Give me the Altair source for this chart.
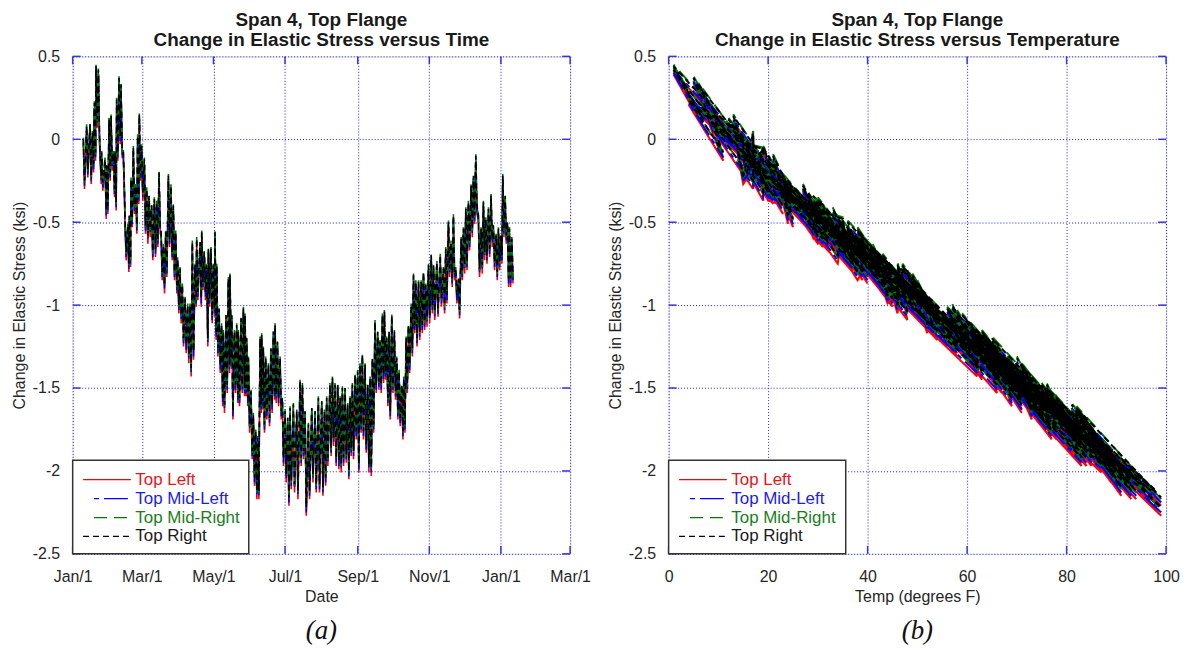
import altair as alt
import pandas as pd

FONT = "Liberation Sans"
SERIES = ["Top Left", "Top Mid-Left", "Top Mid-Right", "Top Right"]
LINE_COLORS = ["#ff0000", "#0000ff", "#007800", "#000000"]
TEXT_COLORS = ["#e8141c", "#1c1ce8", "#1a7f1a", "#1a1a1a"]
DASHES = [[1, 0], [5, 5, 24, 5], [13, 7], [6, 4]]

# day of year (from Jan 1) of each daily maximum (cold) and minimum (warm) reading
day_hi = [9.1, 11.9, 14.8, 16.8, 18.5, 19.9, 21.9, 23.3, 24.7, 27.6,
          29.0, 31.0, 32.7, 34.7, 36.1, 37.5, 39.5, 41.2, 43.2, 44.6,
          46.9, 48.3, 49.7, 51.7, 53.7, 55.4, 56.8, 58.8, 61.1, 63.1,
          65.1, 67.3, 69.6, 71.6, 73.6, 75.3, 77.3, 79.3, 81.6, 83.8,
          85.8, 87.8, 89.5, 91.5, 93.5, 95.8, 98.0, 100.0, 102.0, 104.3,
          105.7, 108.6, 110.0, 112.2, 114.2, 115.7, 117.9, 119.9, 121.3, 122.8,
          124.8, 126.9, 128.4, 130.7, 132.7, 134.1, 135.6, 137.8, 139.8, 141.2,
          143.5, 145.5, 146.9, 148.3, 149.8, 152.0, 154.0, 156.0, 157.7, 159.7,
          161.1, 162.5, 164.5, 166.8, 169.0, 171.1, 172.5, 174.5, 176.8, 178.7,
          181.0, 183.3, 185.3, 188.1, 191.0, 193.8, 195.8, 198.1, 200.9, 203.8,
          206.6, 209.4, 212.3, 214.6, 216.5, 219.3, 221.4, 223.6, 225.9, 227.9,
          229.9, 232.2, 234.4, 236.4, 238.4, 240.7, 242.9, 244.9, 246.9, 249.2,
          251.5, 253.5, 255.5, 257.7, 260.0, 262.0, 264.0, 265.7, 267.7, 269.7,
          272.0, 274.2, 276.2, 278.2, 280.5, 282.2, 284.2, 286.2, 288.5, 290.5,
          292.5, 294.8, 297.0, 299.0, 301.0, 303.3, 305.6, 307.6, 310.4, 313.3,
          316.0, 318.0, 320.3, 322.5, 324.5, 326.5, 328.8, 331.1, 333.1, 335.1,
          337.3, 339.6, 341.6, 343.6, 345.8, 348.1, 350.1, 352.1, 354.4, 356.6,
          358.6, 360.9, 362.9, 364.9, 366.6, 368.6, 370.6, 372.3, 374.3]
day_lo = [10.1, 12.9, 15.8, 17.8, 19.5, 20.9, 22.9, 24.3, 25.7, 28.6,
          30.0, 32.0, 33.7, 35.7, 37.1, 38.5, 40.5, 42.2, 44.2, 45.6,
          47.9, 49.3, 50.7, 52.7, 54.7, 56.4, 57.8, 59.8, 62.1, 64.1,
          66.1, 68.3, 70.6, 72.6, 74.6, 76.3, 78.3, 80.3, 82.6, 84.8,
          86.8, 88.8, 90.5, 92.5, 94.5, 96.8, 99.0, 101.0, 103.0, 105.3,
          106.7, 109.6, 111.0, 113.2, 115.2, 116.7, 118.9, 120.9, 122.3, 123.8,
          125.8, 127.9, 129.4, 131.7, 133.7, 135.1, 136.6, 138.8, 140.8, 142.2,
          144.5, 146.5, 147.9, 149.3, 150.8, 153.0, 155.0, 157.0, 158.7, 160.7,
          162.1, 163.5, 165.5, 167.8, 170.0, 172.1, 173.5, 175.5, 177.8, 179.7,
          182.0, 184.3, 186.3, 189.1, 192.0, 194.8, 196.8, 199.1, 201.9, 204.8,
          207.6, 210.4, 213.3, 215.6, 217.5, 220.3, 222.4, 224.6, 226.9, 228.9,
          230.9, 233.2, 235.4, 237.4, 239.4, 241.7, 243.9, 245.9, 247.9, 250.2,
          252.5, 254.5, 256.5, 258.7, 261.0, 263.0, 265.0, 266.7, 268.7, 270.7,
          273.0, 275.2, 277.2, 279.2, 281.5, 283.2, 285.2, 287.2, 289.5, 291.5,
          293.5, 295.8, 298.0, 300.0, 302.0, 304.3, 306.6, 308.6, 311.4, 314.3,
          317.0, 319.0, 321.3, 323.5, 325.5, 327.5, 329.8, 332.1, 334.1, 336.1,
          338.3, 340.6, 342.6, 344.6, 346.8, 349.1, 351.1, 353.1, 355.4, 357.6,
          359.6, 361.9, 363.9, 365.9, 367.6, 369.6, 371.6, 373.3, 375.3]

# air temperature (degrees F) at the cold and warm readings
temp_cold = [17, 9, 13, 17, 6, 1, 1, 19, 14, 20,
             18, 12, 13, 15, 16, 4, 5, 6, 15, 35,
             36, 28, 23, 19, 22, 14, 9, 19, 15, 27,
             26, 30, 30, 26, 21, 32, 41, 36, 20, 27,
             31, 33, 43, 47, 46, 52, 52, 57, 35, 46,
             36, 39, 38, 38, 44, 37, 41, 44, 34, 47,
             56, 55, 61, 59, 45, 46, 55, 63, 55, 63,
             56, 56, 59, 60, 66, 72, 82, 85, 84, 65,
             63, 61, 68, 71, 62, 60, 57, 65, 63, 78,
             79, 82, 82, 76, 79, 69, 75, 81, 81, 82,
             82, 73, 78, 82, 74, 73, 70, 76, 69, 78,
             73, 76, 81, 74, 73, 68, 72, 69, 64, 71,
             75, 68, 68, 60, 58, 62, 55, 58, 58, 62,
             55, 61, 70, 68, 73, 68, 64, 59, 51, 49,
             50, 44, 49, 48, 47, 44, 40, 46, 40, 43,
             43, 41, 36, 36, 31, 42, 49, 38, 33, 33,
             30, 21, 23, 21, 29, 35, 27, 35, 27, 29,
             33, 37, 38, 35, 22, 24, 35, 36, 35]
temp_hot = [17, 19, 15, 17, 17, 7, 11, 15, 21, 27,
            23, 21, 16, 20, 26, 11, 12, 16, 20, 36,
            37, 40, 25, 26, 33, 21, 18, 19, 32, 33,
            29, 39, 35, 32, 32, 38, 45, 43, 31, 36,
            39, 47, 46, 53, 60, 58, 62, 62, 63, 49,
            44, 51, 44, 45, 60, 45, 53, 53, 54, 60,
            62, 74, 71, 70, 67, 61, 76, 66, 73, 73,
            67, 73, 71, 71, 81, 82, 93, 98, 94, 74,
            71, 81, 73, 78, 77, 70, 72, 69, 78, 88,
            89, 99, 93, 93, 97, 84, 86, 99, 93, 92,
            92, 95, 91, 93, 90, 83, 82, 83, 90, 89,
            85, 89, 90, 84, 87, 77, 89, 82, 78, 84,
            87, 91, 76, 70, 71, 68, 66, 63, 74, 77,
            67, 74, 76, 76, 82, 76, 70, 67, 58, 54,
            56, 58, 52, 54, 56, 51, 49, 48, 52, 49,
            47, 50, 40, 42, 43, 44, 52, 45, 38, 39,
            32, 33, 24, 26, 43, 38, 36, 34, 37, 34,
            37, 44, 40, 37, 33, 30, 44, 47, 40]

# change in elastic stress (ksi), Top Right gauge
tr_hi = [0.00, 0.08, 0.09, 0.04, 0.22, 0.44, 0.42, -0.06, -0.08, -0.12,
         -0.16, 0.12, 0.14, -0.08, -0.08, 0.24, 0.37, 0.33, -0.08, -0.48,
         -0.52, -0.46, -0.24, -0.05, -0.28, 0.02, 0.15, -0.04, -0.12, -0.30,
         -0.34, -0.40, -0.36, -0.38, -0.20, -0.54, -0.64, -0.56, -0.22, -0.28,
         -0.40, -0.56, -0.72, -0.78, -0.88, -0.96, -1.00, -1.00, -0.62, -0.76,
         -0.60, -0.62, -0.56, -0.68, -0.76, -0.66, -0.66, -0.76, -0.56, -0.76,
         -1.02, -1.12, -1.16, -1.06, -0.84, -0.82, -1.06, -1.16, -1.12, -1.16,
         -1.08, -1.02, -1.06, -1.20, -1.32, -1.52, -1.66, -1.76, -1.80, -1.20,
         -1.18, -1.26, -1.32, -1.36, -1.26, -1.16, -1.12, -1.22, -1.32, -1.56,
         -1.64, -1.68, -1.62, -1.60, -1.64, -1.46, -1.48, -1.64, -1.72, -1.62,
         -1.64, -1.56, -1.58, -1.64, -1.56, -1.48, -1.44, -1.48, -1.48, -1.56,
         -1.50, -1.50, -1.60, -1.56, -1.48, -1.42, -1.40, -1.36, -1.30, -1.36,
         -1.48, -1.44, -1.32, -1.10, -1.16, -1.22, -1.06, -1.04, -1.20, -1.16,
         -1.06, -1.16, -1.32, -1.40, -1.48, -1.44, -1.20, -1.12, -1.00, -0.82,
         -0.86, -0.86, -0.86, -0.80, -0.88, -0.76, -0.70, -0.76, -0.74, -0.70,
         -0.78, -0.66, -0.50, -0.62, -0.46, -0.78, -0.84, -0.60, -0.54, -0.42,
         -0.38, -0.28, -0.22, -0.10, -0.46, -0.54, -0.38, -0.48, -0.42, -0.34,
         -0.52, -0.58, -0.54, -0.58, -0.22, -0.34, -0.50, -0.54, -0.60]
tr_lo = [-0.25, -0.18, -0.22, -0.15, -0.08, 0.12, 0.02, -0.22, -0.26, -0.43,
         -0.40, -0.20, -0.14, -0.30, -0.38, -0.08, 0.02, -0.06, -0.32, -0.68,
         -0.75, -0.72, -0.48, -0.40, -0.52, -0.34, -0.20, -0.32, -0.52, -0.58,
         -0.54, -0.68, -0.66, -0.60, -0.52, -0.80, -0.88, -0.78, -0.60, -0.68,
         -0.80, -0.88, -1.00, -1.06, -1.20, -1.24, -1.30, -1.38, -1.28, -0.96,
         -0.92, -0.96, -0.86, -0.92, -1.20, -0.96, -1.06, -1.02, -1.16, -1.26,
         -1.36, -1.56, -1.60, -1.48, -1.36, -1.32, -1.64, -1.48, -1.54, -1.56,
         -1.48, -1.50, -1.50, -1.56, -1.72, -1.88, -2.04, -2.12, -2.12, -1.60,
         -1.58, -1.72, -1.64, -1.68, -1.60, -1.52, -1.54, -1.56, -1.64, -1.92,
         -2.02, -2.16, -2.06, -2.08, -2.12, -1.92, -1.88, -2.22, -2.12, -2.02,
         -2.08, -2.08, -2.10, -2.04, -1.92, -1.86, -1.80, -1.92, -1.94, -1.96,
         -1.92, -1.90, -2.00, -1.86, -1.88, -1.76, -1.96, -1.72, -1.76, -1.84,
         -1.96, -1.98, -1.72, -1.48, -1.46, -1.48, -1.42, -1.40, -1.56, -1.64,
         -1.48, -1.52, -1.64, -1.68, -1.76, -1.72, -1.48, -1.36, -1.26, -1.12,
         -1.20, -1.16, -1.12, -1.10, -1.08, -1.06, -1.00, -1.04, -1.02, -0.96,
         -1.00, -0.94, -0.78, -0.84, -0.80, -0.94, -1.03, -0.80, -0.76, -0.74,
         -0.62, -0.54, -0.46, -0.40, -0.78, -0.76, -0.68, -0.70, -0.66, -0.60,
         -0.74, -0.80, -0.74, -0.70, -0.54, -0.58, -0.84, -0.84, -0.82]

# Top Mid-Right gauge
tmr_hi = [0.01, 0.09, 0.10, 0.05, 0.23, 0.45, 0.43, -0.05, -0.07, -0.11,
          -0.15, 0.13, 0.15, -0.07, -0.07, 0.25, 0.38, 0.34, -0.07, -0.47,
          -0.51, -0.45, -0.23, -0.04, -0.27, 0.03, 0.16, -0.03, -0.11, -0.29,
          -0.33, -0.39, -0.35, -0.37, -0.19, -0.53, -0.63, -0.55, -0.21, -0.27,
          -0.39, -0.55, -0.71, -0.77, -0.87, -0.95, -0.99, -0.99, -0.61, -0.75,
          -0.59, -0.61, -0.55, -0.67, -0.75, -0.65, -0.65, -0.75, -0.55, -0.75,
          -1.01, -1.11, -1.15, -1.05, -0.83, -0.81, -1.05, -1.15, -1.11, -1.15,
          -1.07, -1.01, -1.05, -1.19, -1.31, -1.51, -1.65, -1.75, -1.79, -1.19,
          -1.17, -1.25, -1.31, -1.35, -1.25, -1.15, -1.11, -1.21, -1.31, -1.55,
          -1.63, -1.67, -1.61, -1.59, -1.63, -1.45, -1.47, -1.63, -1.71, -1.61,
          -1.63, -1.55, -1.57, -1.63, -1.55, -1.47, -1.43, -1.47, -1.47, -1.55,
          -1.49, -1.49, -1.59, -1.55, -1.47, -1.41, -1.39, -1.35, -1.29, -1.35,
          -1.47, -1.43, -1.31, -1.09, -1.15, -1.21, -1.05, -1.03, -1.19, -1.15,
          -1.05, -1.15, -1.31, -1.39, -1.47, -1.43, -1.19, -1.11, -0.99, -0.81,
          -0.85, -0.85, -0.85, -0.79, -0.87, -0.75, -0.69, -0.75, -0.73, -0.69,
          -0.77, -0.65, -0.49, -0.61, -0.45, -0.77, -0.83, -0.59, -0.53, -0.41,
          -0.37, -0.27, -0.21, -0.09, -0.45, -0.53, -0.37, -0.47, -0.41, -0.33,
          -0.51, -0.57, -0.53, -0.57, -0.21, -0.33, -0.49, -0.53, -0.59]
tmr_lo = [-0.26, -0.19, -0.23, -0.16, -0.09, 0.11, 0.01, -0.23, -0.27, -0.44,
          -0.41, -0.21, -0.15, -0.31, -0.39, -0.09, 0.01, -0.07, -0.33, -0.69,
          -0.76, -0.73, -0.49, -0.41, -0.53, -0.35, -0.21, -0.33, -0.53, -0.59,
          -0.55, -0.69, -0.67, -0.61, -0.53, -0.81, -0.89, -0.79, -0.61, -0.69,
          -0.81, -0.89, -1.01, -1.07, -1.21, -1.25, -1.31, -1.39, -1.29, -0.97,
          -0.93, -0.97, -0.87, -0.93, -1.21, -0.97, -1.07, -1.03, -1.17, -1.27,
          -1.37, -1.57, -1.61, -1.49, -1.37, -1.33, -1.65, -1.49, -1.55, -1.57,
          -1.49, -1.51, -1.51, -1.57, -1.73, -1.89, -2.05, -2.13, -2.13, -1.61,
          -1.59, -1.73, -1.65, -1.69, -1.61, -1.53, -1.55, -1.57, -1.65, -1.93,
          -2.03, -2.17, -2.07, -2.09, -2.13, -1.93, -1.89, -2.23, -2.13, -2.03,
          -2.09, -2.09, -2.11, -2.05, -1.93, -1.87, -1.81, -1.93, -1.95, -1.97,
          -1.93, -1.91, -2.01, -1.87, -1.89, -1.77, -1.97, -1.73, -1.77, -1.85,
          -1.97, -1.99, -1.73, -1.49, -1.47, -1.49, -1.43, -1.41, -1.57, -1.65,
          -1.49, -1.53, -1.65, -1.69, -1.77, -1.73, -1.49, -1.37, -1.27, -1.13,
          -1.21, -1.17, -1.13, -1.11, -1.09, -1.07, -1.01, -1.05, -1.03, -0.97,
          -1.01, -0.95, -0.79, -0.85, -0.81, -0.95, -1.04, -0.81, -0.77, -0.75,
          -0.63, -0.55, -0.47, -0.41, -0.79, -0.77, -0.69, -0.71, -0.67, -0.61,
          -0.75, -0.81, -0.75, -0.71, -0.55, -0.59, -0.85, -0.85, -0.83]

# Top Mid-Left gauge
tml_hi = [-0.02, 0.06, 0.07, 0.02, 0.20, 0.42, 0.40, -0.08, -0.10, -0.14,
          -0.18, 0.10, 0.12, -0.10, -0.10, 0.22, 0.35, 0.31, -0.10, -0.50,
          -0.54, -0.48, -0.26, -0.07, -0.30, 0.00, 0.13, -0.06, -0.14, -0.32,
          -0.36, -0.42, -0.38, -0.40, -0.22, -0.56, -0.66, -0.58, -0.24, -0.30,
          -0.42, -0.58, -0.74, -0.80, -0.90, -0.98, -1.02, -1.02, -0.64, -0.78,
          -0.62, -0.64, -0.58, -0.70, -0.78, -0.68, -0.68, -0.78, -0.58, -0.78,
          -1.04, -1.14, -1.18, -1.08, -0.86, -0.84, -1.08, -1.18, -1.14, -1.18,
          -1.10, -1.04, -1.08, -1.22, -1.34, -1.54, -1.68, -1.78, -1.82, -1.22,
          -1.20, -1.28, -1.34, -1.38, -1.28, -1.18, -1.14, -1.24, -1.34, -1.58,
          -1.66, -1.70, -1.64, -1.62, -1.66, -1.48, -1.50, -1.66, -1.74, -1.64,
          -1.66, -1.58, -1.60, -1.66, -1.58, -1.50, -1.46, -1.50, -1.50, -1.58,
          -1.52, -1.52, -1.62, -1.58, -1.50, -1.44, -1.42, -1.38, -1.32, -1.38,
          -1.50, -1.46, -1.34, -1.12, -1.18, -1.24, -1.08, -1.06, -1.22, -1.18,
          -1.08, -1.18, -1.34, -1.42, -1.50, -1.46, -1.22, -1.14, -1.02, -0.84,
          -0.88, -0.88, -0.88, -0.82, -0.90, -0.78, -0.72, -0.78, -0.76, -0.72,
          -0.80, -0.68, -0.52, -0.64, -0.48, -0.80, -0.86, -0.62, -0.56, -0.44,
          -0.40, -0.30, -0.24, -0.12, -0.48, -0.56, -0.40, -0.50, -0.44, -0.36,
          -0.54, -0.60, -0.56, -0.60, -0.24, -0.36, -0.52, -0.56, -0.62]
tml_lo = [-0.28, -0.21, -0.25, -0.18, -0.11, 0.09, -0.01, -0.25, -0.29, -0.46,
          -0.43, -0.23, -0.17, -0.33, -0.41, -0.11, -0.01, -0.09, -0.35, -0.71,
          -0.78, -0.75, -0.51, -0.43, -0.55, -0.37, -0.23, -0.35, -0.55, -0.61,
          -0.57, -0.71, -0.69, -0.63, -0.55, -0.83, -0.91, -0.81, -0.63, -0.71,
          -0.83, -0.91, -1.03, -1.09, -1.23, -1.27, -1.33, -1.41, -1.31, -0.99,
          -0.95, -0.99, -0.89, -0.95, -1.23, -0.99, -1.09, -1.05, -1.19, -1.29,
          -1.39, -1.59, -1.63, -1.51, -1.39, -1.35, -1.67, -1.51, -1.57, -1.59,
          -1.51, -1.53, -1.53, -1.59, -1.75, -1.91, -2.07, -2.15, -2.15, -1.63,
          -1.61, -1.75, -1.67, -1.71, -1.63, -1.55, -1.57, -1.59, -1.67, -1.95,
          -2.05, -2.19, -2.09, -2.11, -2.15, -1.95, -1.91, -2.25, -2.15, -2.05,
          -2.11, -2.11, -2.13, -2.07, -1.95, -1.89, -1.83, -1.95, -1.97, -1.99,
          -1.95, -1.93, -2.03, -1.89, -1.91, -1.79, -1.99, -1.75, -1.79, -1.87,
          -1.99, -2.01, -1.75, -1.51, -1.49, -1.51, -1.45, -1.43, -1.59, -1.67,
          -1.51, -1.55, -1.67, -1.71, -1.79, -1.75, -1.51, -1.39, -1.29, -1.15,
          -1.23, -1.19, -1.15, -1.13, -1.11, -1.09, -1.03, -1.07, -1.05, -0.99,
          -1.03, -0.97, -0.81, -0.87, -0.83, -0.97, -1.06, -0.83, -0.79, -0.77,
          -0.65, -0.57, -0.49, -0.43, -0.81, -0.79, -0.71, -0.73, -0.69, -0.63,
          -0.77, -0.83, -0.77, -0.73, -0.57, -0.61, -0.87, -0.87, -0.85]

# Top Left gauge
tl_hi = [-0.03, 0.05, 0.06, 0.01, 0.19, 0.41, 0.39, -0.09, -0.11, -0.15,
         -0.19, 0.09, 0.11, -0.11, -0.11, 0.21, 0.34, 0.30, -0.11, -0.51,
         -0.55, -0.49, -0.27, -0.08, -0.31, -0.01, 0.12, -0.07, -0.15, -0.33,
         -0.37, -0.43, -0.39, -0.41, -0.23, -0.57, -0.67, -0.59, -0.25, -0.31,
         -0.43, -0.59, -0.75, -0.81, -0.91, -0.99, -1.03, -1.03, -0.65, -0.79,
         -0.63, -0.65, -0.59, -0.71, -0.79, -0.69, -0.69, -0.79, -0.59, -0.79,
         -1.05, -1.15, -1.19, -1.09, -0.87, -0.85, -1.09, -1.19, -1.15, -1.19,
         -1.11, -1.05, -1.09, -1.23, -1.35, -1.55, -1.69, -1.79, -1.83, -1.23,
         -1.21, -1.29, -1.35, -1.39, -1.29, -1.19, -1.15, -1.25, -1.35, -1.59,
         -1.67, -1.71, -1.65, -1.63, -1.67, -1.49, -1.51, -1.67, -1.75, -1.65,
         -1.67, -1.59, -1.61, -1.67, -1.59, -1.51, -1.47, -1.51, -1.51, -1.59,
         -1.53, -1.53, -1.63, -1.59, -1.51, -1.45, -1.43, -1.39, -1.33, -1.39,
         -1.51, -1.47, -1.35, -1.13, -1.19, -1.25, -1.09, -1.07, -1.23, -1.19,
         -1.09, -1.19, -1.35, -1.43, -1.51, -1.47, -1.23, -1.15, -1.03, -0.85,
         -0.89, -0.89, -0.89, -0.83, -0.91, -0.79, -0.73, -0.79, -0.77, -0.73,
         -0.81, -0.69, -0.53, -0.65, -0.49, -0.81, -0.87, -0.63, -0.57, -0.45,
         -0.41, -0.31, -0.25, -0.13, -0.49, -0.57, -0.41, -0.51, -0.45, -0.37,
         -0.55, -0.61, -0.57, -0.61, -0.25, -0.37, -0.53, -0.57, -0.63]
tl_lo = [-0.30, -0.23, -0.27, -0.20, -0.13, 0.07, -0.03, -0.27, -0.31, -0.48,
         -0.45, -0.25, -0.19, -0.35, -0.43, -0.13, -0.03, -0.11, -0.37, -0.73,
         -0.80, -0.77, -0.53, -0.45, -0.57, -0.39, -0.25, -0.37, -0.57, -0.63,
         -0.59, -0.73, -0.71, -0.65, -0.57, -0.85, -0.93, -0.83, -0.65, -0.73,
         -0.85, -0.93, -1.05, -1.11, -1.25, -1.29, -1.35, -1.43, -1.33, -1.01,
         -0.97, -1.01, -0.91, -0.97, -1.25, -1.01, -1.11, -1.07, -1.21, -1.31,
         -1.41, -1.61, -1.65, -1.53, -1.41, -1.37, -1.69, -1.53, -1.59, -1.61,
         -1.53, -1.55, -1.55, -1.61, -1.77, -1.93, -2.09, -2.17, -2.17, -1.65,
         -1.63, -1.77, -1.69, -1.73, -1.65, -1.57, -1.59, -1.61, -1.69, -1.97,
         -2.07, -2.21, -2.11, -2.13, -2.17, -1.97, -1.93, -2.27, -2.17, -2.07,
         -2.13, -2.13, -2.15, -2.09, -1.97, -1.91, -1.85, -1.97, -1.99, -2.01,
         -1.97, -1.95, -2.05, -1.91, -1.93, -1.81, -2.01, -1.77, -1.81, -1.89,
         -2.01, -2.03, -1.77, -1.53, -1.51, -1.53, -1.47, -1.45, -1.61, -1.69,
         -1.53, -1.57, -1.69, -1.73, -1.81, -1.77, -1.53, -1.41, -1.31, -1.17,
         -1.25, -1.21, -1.17, -1.15, -1.13, -1.11, -1.05, -1.09, -1.07, -1.01,
         -1.05, -0.99, -0.83, -0.89, -0.85, -0.99, -1.08, -0.85, -0.81, -0.79,
         -0.67, -0.59, -0.51, -0.45, -0.83, -0.81, -0.73, -0.75, -0.71, -0.65,
         -0.79, -0.85, -0.79, -0.75, -0.59, -0.63, -0.89, -0.89, -0.87]

# axis tick positions
stress_ticks = [-2.5, -2, -1.5, -1, -0.5, 0, 0.5]
temp_ticks = [0, 20, 40, 60, 80, 100]
date_ticks = ["2009-01-01T00:00:00", "2009-03-01T00:00:00", "2009-05-01T00:00:00",
              "2009-07-01T00:00:00", "2009-09-01T00:00:00", "2009-11-01T00:00:00",
              "2010-01-01T00:00:00", "2010-03-01T00:00:00"]

HI = {"Top Left": tl_hi, "Top Mid-Left": tml_hi, "Top Mid-Right": tmr_hi, "Top Right": tr_hi}
LO = {"Top Left": tl_lo, "Top Mid-Left": tml_lo, "Top Mid-Right": tmr_lo, "Top Right": tr_lo}

rows = []
for name in SERIES:
    for i in range(len(day_hi)):
        rows.append({"series": name, "day": day_hi[i], "stress": HI[name][i],
                     "temp": temp_cold[i], "k": 2 * i})
        rows.append({"series": name, "day": day_lo[i], "stress": LO[name][i],
                     "temp": temp_hot[i], "k": 2 * i + 1})
df = pd.DataFrame(rows)
df["date"] = (pd.Timestamp("2009-01-01") + pd.to_timedelta(df["day"], unit="D")).dt.strftime("%Y-%m-%dT%H:%M:%S")

one = pd.DataFrame({"v": [0]})
ytick_df = pd.DataFrame({"stress": stress_ticks})
ttick_df = pd.DataFrame({"temp": temp_ticks})
dtick_df = pd.DataFrame({"date": date_ticks})

FRAME = "#3434e8"
AX = dict(labelFont=FONT, labelFontSize=16, labelColor="#262626",
          titleFont=FONT, titleFontSize=16, titleFontWeight="normal", titleColor="#262626",
          grid=True, gridColor="#1e1ef4", gridDash=[1, 2], gridWidth=1,
          domain=False, ticks=False, labelOverlap=False, labelFlush=False)

Y = alt.Y("stress:Q", scale=alt.Scale(domain=[-2.5, 0.5], nice=False, zero=False),
          axis=alt.Axis(values=stress_ticks, labelExpr="'' + datum.value",
                        title="Change in Elastic Stress (ksi)", labelPadding=13, titlePadding=5, **AX))

LEG_Y = [425.5, 444.5, 463.5, 482.5]
LEG_X0 = [10.5, 21.5, 21.5, 10.5]
LEG_X1 = [58.5, 55.5, 55.5, 58.5]


def legend_layers(box_w):
    out = [alt.Chart(one).mark_rect(fill="white", stroke="#333333", strokeWidth=1.5).encode(
        x=alt.value(0), x2=alt.value(box_w), y=alt.value(406), y2=alt.value(500))]
    for i, name in enumerate(SERIES):
        out.append(alt.Chart(one).mark_rule(color=LINE_COLORS[i], strokeDash=DASHES[i], strokeWidth=1.3).encode(
            x=alt.value(LEG_X0[i]), x2=alt.value(LEG_X1[i]), y=alt.value(LEG_Y[i])))
        out.append(alt.Chart(one).mark_text(text=name, font=FONT, fontSize=17, align="left",
                                            baseline="middle", color=TEXT_COLORS[i]).encode(
            x=alt.value(63), y=alt.value(LEG_Y[i])))
    return out


def tick_layers(X, xtick_df):
    # short inward tick marks on all four sides of the frame
    return [
        alt.Chart(ytick_df).mark_rule(color=FRAME, strokeWidth=1.5).encode(
            y=Y, x=alt.value(0), x2=alt.value(8)),
        alt.Chart(ytick_df).mark_rule(color=FRAME, strokeWidth=1.5).encode(
            y=Y, x=alt.value(492), x2=alt.value(500)),
        alt.Chart(xtick_df).mark_rule(color=FRAME, strokeWidth=1.5).encode(
            x=X, y=alt.value(492), y2=alt.value(500)),
        alt.Chart(xtick_df).mark_rule(color=FRAME, strokeWidth=1.5).encode(
            x=X, y=alt.value(0), y2=alt.value(8)),
    ]


def panel(X, xtick_df, title_lines, caption, box_w, line_w):
    layers = tick_layers(X, xtick_df)
    for i, name in enumerate(SERIES):
        layers.append(alt.Chart(df).transform_filter(alt.datum.series == name).mark_line(
            color=LINE_COLORS[i], strokeDash=DASHES[i], strokeWidth=line_w, clip=True).encode(
            x=X, y=Y, order=alt.Order("k:Q")))
    layers += legend_layers(box_w)
    layers.append(alt.Chart(one).mark_text(text=caption, font="Liberation Serif", fontStyle="italic",
                                           fontSize=27, color="#111111", baseline="middle").encode(
        x=alt.value(250), y=alt.value(578)))
    return alt.layer(*layers).properties(
        width=500, height=500,
        title=alt.TitleParams(text=title_lines, font=FONT, fontSize=19, fontWeight="bold",
                              lineHeight=21, color="#1a1a1a", anchor="middle", frame="group", offset=-2))


X_time = alt.X("date:T",
               scale=alt.Scale(domain=[alt.DateTime(year=2009, month=1, date=1),
                                       alt.DateTime(year=2010, month=3, date=1)], nice=False),
               axis=alt.Axis(values=[alt.DateTime(year=2009, month=m, date=1) for m in [1, 3, 5, 7, 9, 11]]
                             + [alt.DateTime(year=2010, month=m, date=1) for m in [1, 3]],
                             format="%b/%-d", title="Date", labelPadding=15, titlePadding=4, **AX))
X_temp = alt.X("temp:Q", scale=alt.Scale(domain=[0, 100], nice=False, zero=False),
               axis=alt.Axis(values=temp_ticks, title="Temp (degrees F)",
                             labelPadding=15, titlePadding=4, **AX))

left = panel(X_time, dtick_df, ["Span 4, Top Flange", "Change in Elastic Stress versus Time"], "(a)", 177, 1.6)
right = panel(X_temp, ttick_df, ["Span 4, Top Flange", "Change in Elastic Stress versus Temperature"], "(b)", 178, 2.0)

chart = alt.hconcat(left, right, spacing=99, bounds="flush").properties(
    padding={"left": 2, "top": 0, "right": 2, "bottom": 0}
).configure_view(stroke=FRAME, strokeWidth=1.8).configure(background="white")

chart.save("out.html", embed_options={"renderer": "svg", "actions": False})
